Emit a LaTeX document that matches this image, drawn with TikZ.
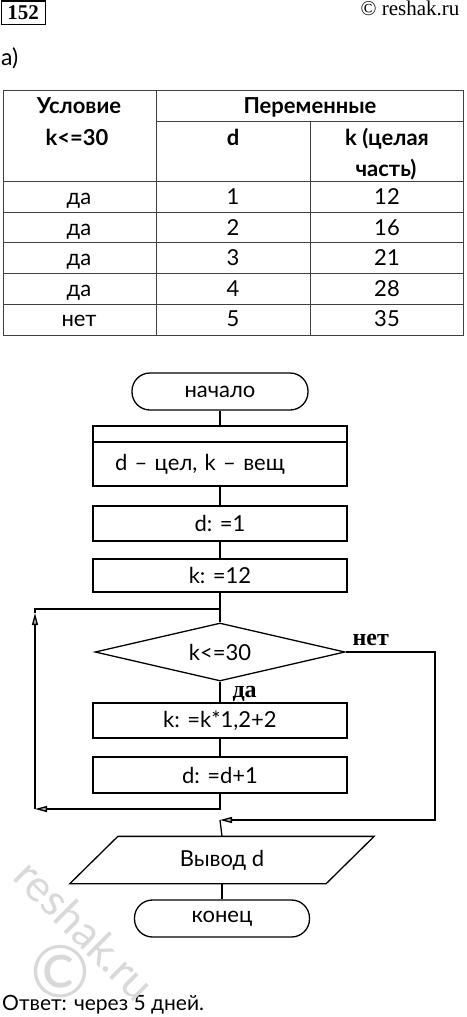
\documentclass[tikz,border=0pt]{standalone}
\usepackage{fontspec}
\setmainfont{Lato}
\newfontfamily\serifru{Liberation Serif}
\usetikzlibrary{shapes.geometric,arrows.meta}

\tikzset{
  blok/.style={draw, line width=1.3pt, minimum width=254pt, inner sep=0pt,
    font=\fontsize{22}{24}\selectfont},
  term/.style={blok, rounded corners=18pt, minimum width=176pt, minimum height=37pt},
  usl/.style={blok, diamond, aspect=4.3, minimum width=250pt, minimum height=58pt},
  vyvod/.style={blok, draw=none, minimum width=255pt, minimum height=46pt},
  strelka/.style={line width=1.3pt, -{Triangle[length=12pt,width=6pt,fill=gray!60]}},
  liniya/.style={line width=1.3pt},
  yach/.style={anchor=base, font=\fontsize{22}{24}\selectfont},
  zag/.style={anchor=base, font=\bfseries\fontsize{22}{24}\selectfont},
  metka/.style={anchor=base west, font=\serifru\bfseries\fontsize{24}{26}\selectfont}
}

\begin{document}
\begin{tikzpicture}[x=1pt, y=-1pt]
    \useasboundingbox (0,0) rectangle (466,1017);

    % Шапка
    \node[draw, line width=1pt, minimum width=44pt, minimum height=23pt, inner sep=0pt,
      font=\serifru\bfseries\fontsize{21}{22}\selectfont] (nomer) at (23,12.5) {152};
    \node[anchor=base east, font=\serifru\fontsize{21}{22}\selectfont] (sajt) at (463,16) {© reshak.ru};
    \node[anchor=base west, inner sep=0pt, font=\fontsize{23}{24}\selectfont] (punkt) at (1,65) {а)};

    % Таблица
    \begin{scope}[black!75, line width=0.9pt]
        \draw (3,90) rectangle (463,335);
        \draw (156,90) -- (156,335);
        \draw (310,121) -- (310,335);
        \draw (156,121) -- (463,121);
        \foreach \y in {181,212,242,273,304}
            \draw (3,\y) -- (463,\y);
    \end{scope}

    \node[zag] (uslovie) at (79,113) {Условие};
    \node[zag] (peremen) at (310,113) {Переменные};
    \node[zag] (uslk) at (77,145) {k<=30};
    \node[zag] (zagd) at (233,145) {d};
    \node[zag] (zagk) at (387,145) {k (целая};
    \node[zag] (zagk2) at (386,176) {часть)};

    \foreach \otv/\dd/\kk [count=\i] in {да/1/12, да/2/16, да/3/21, да/4/28, нет/5/35} {
        \node[yach] (u\i) at (79,{196.5+30.6*(\i-1)+8}) {\otv};
        \node[yach] (d\i) at (233,{196.5+30.6*(\i-1)+8}) {\dd};
        \node[yach] (k\i) at (387,{196.5+30.6*(\i-1)+8}) {\kk};
    }

    % Блок-схема
    \node[term] (nachalo) at (220,391.5) {начало};
    \node[blok, minimum height=16pt] (opisTop) at (220,434) {};
    \node[blok, minimum height=44pt, text width=210pt, inner xsep=22pt, align=left] (opis) at (220,464) {d – цел, k – вещ};
    \node[blok, minimum height=35pt] (dodin) at (220,523.5) {d: =1};
    \node[blok, minimum height=33pt] (kdven) at (220,575.5) {k: =12};
    \node[usl] (uslov) at (220,652) {k<=30};
    \node[blok, minimum height=35pt] (knov) at (220,720.5) {k: =k*1,2+2};
    \node[blok, minimum height=36pt] (dnov) at (220,775) {d: =d+1};
    \node[vyvod] (vyvodd) at (222,860) {Вывод d};
    \node[term, minimum width=175pt] (konec) at (222,918.5) {конец};

    % Параллелограмм
    \draw[liniya] ([xshift=-24pt]vyvodd.south west) -- ([xshift=24pt]vyvodd.north west)
        -- ([xshift=24pt]vyvodd.north east) -- ([xshift=-24pt]vyvodd.south east) -- cycle;

    \node[metka] (net) at (349,645) {нет};
    \node[metka] (da) at (229,697) {да};

    \coordinate (jn1) at (220,609);
    \coordinate (lt) at (35,609);
    \coordinate (lu) at (35,613);
    \coordinate (lb) at (35,809);
    \coordinate (nr) at (435,652);
    \coordinate (nb) at (435,820);
    \coordinate (jn2) at (220,820);

    \draw[liniya] (nachalo) -- (opisTop);
    \draw[liniya] (opis) -- (dodin);
    \draw[liniya] (dodin) -- (kdven);
    \draw[liniya] (kdven) -- (uslov.north);
    \draw[liniya] (uslov.south) -- (knov);
    \draw[liniya] (knov) -- (dnov);

    % Цикл
    \draw[strelka] (dnov.south) |- (lb);
    \draw[strelka] (lb) -- (lu);
    \draw[liniya] (lu) -- (lt) -- (jn1);

    % Выход
    \draw[strelka] (uslov.east) -- (nr) -- (nb) -- (jn2);
    \draw[liniya] (jn2) -- (vyvodd.north);
    \draw[liniya] (vyvodd.south) -- (konec);

    % Ответ
    \node[anchor=base west, inner sep=0pt, font=\fontsize{21}{22}\selectfont] (otvet) at (2,1010) {Ответ: через 5 дней.};

    % Водяной знак
    \node[gray!30, rotate=-45, font=\fontsize{44}{44}\selectfont] (znak) at (85,930) {reshak.ru};
    \node[gray!30, font=\fontsize{72}{72}\selectfont] (znakc) at (60,972) {©};
\end{tikzpicture}
\end{document}
